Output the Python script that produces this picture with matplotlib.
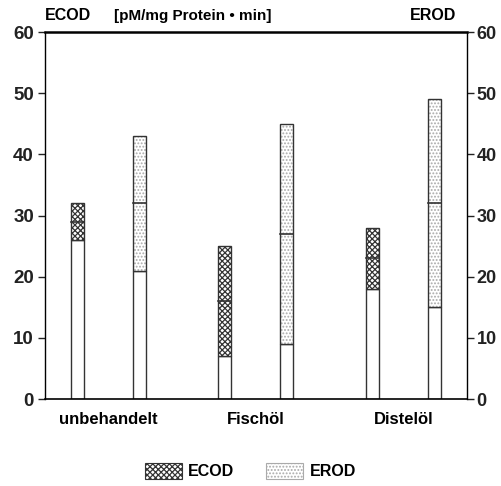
import numpy as np
import matplotlib
matplotlib.use("Agg")
import matplotlib.pyplot as plt
from matplotlib.patches import Patch

# data (mean +/- sd)
categories = ["unbehandelt", "Fischöl", "Distelöl"]
ecod_mean = [29, 16, 23]
ecod_sd = [3, 9, 5]
erod_mean = [32, 27, 32]
erod_sd = [11, 18, 17]
y_ticks = [0, 10, 20, 30, 40, 50, 60]

plt.rcParams['font.family'] = ['Liberation Sans', 'DejaVu Sans']
plt.rcParams['font.weight'] = 'bold'
plt.rcParams['hatch.linewidth'] = 0.9

fig = plt.figure(figsize=(5.01, 4.86), dpi=100)
ax = fig.add_axes([0.0898, 0.179, 0.842, 0.755])

x = np.arange(len(categories))
offset = 0.21
width = 0.088

def draw_series(xpos, mean, sd, hatch, hcolor):
    mean = np.array(mean)
    sd = np.array(sd)
    low = mean - sd
    ax.bar(xpos, low, width, color='white', edgecolor='#333333', linewidth=1.0)
    ax.bar(xpos, 2 * sd, width, bottom=low, color='white', edgecolor=hcolor,
           hatch=hatch, linewidth=0)
    ax.bar(xpos, 2 * sd, width, bottom=low, color='none', edgecolor='#333333',
           linewidth=1.0)
    # mean line
    for xi, m in zip(xpos, mean):
        ax.plot([xi - width / 2, xi + width / 2], [m, m], color='#333333', lw=1.2)

draw_series(x - offset, ecod_mean, ecod_sd, 'xxxxxx', '#333333')
draw_series(x + offset, erod_mean, erod_sd, '.....', '#aaaaaa')

ax.set_xlim(-0.43, 2.43)
ax.set_ylim(0, 60)
ax.set_yticks(y_ticks)
ax.set_xticks(x)
ax.set_xticklabels(categories, fontsize=12, fontweight='bold')
ax.tick_params(axis='x', length=0, pad=9)
ax.tick_params(axis='y', length=5, width=1, labelsize=13.5, pad=3, colors='#222222')
ax.spines['left'].set_linewidth(1.0)
ax.spines['bottom'].set_linewidth(1.2)
ax.spines['top'].set_linewidth(1.8)
ax.spines['right'].set_visible(False)

ax2 = ax.twinx()
ax2.set_ylim(0, 60)
ax2.set_yticks(y_ticks)
ax2.tick_params(axis='y', length=5, width=1, labelsize=13, pad=2, colors='#222222')
for s in ['left', 'top', 'bottom']:
    ax2.spines[s].set_visible(False)
ax2.spines['right'].set_linewidth(1.0)

fig.text(0.09, 0.968, "ECOD", fontsize=11.5, fontweight='bold', va='center')
fig.text(0.228, 0.968, "[pM/mg Protein • min]", fontsize=11, fontweight='bold', va='center')
fig.text(0.91, 0.968, "EROD", fontsize=11.5, fontweight='bold', va='center', ha='right')

handles = [Patch(facecolor='white', edgecolor='#333333', hatch='xxxxxx', linewidth=0.8, label='ECOD'),
           Patch(facecolor='white', edgecolor='#aaaaaa', hatch='.....', linewidth=0.8, label='EROD')]
fig.legend(handles=handles, loc='center', bbox_to_anchor=(0.5, 0.03), ncol=2,
           frameon=False, fontsize=11.5, handlelength=2.3, handleheight=1.1,
           columnspacing=2.0, handletextpad=0.4)

fig.savefig("out.png", dpi=100)
